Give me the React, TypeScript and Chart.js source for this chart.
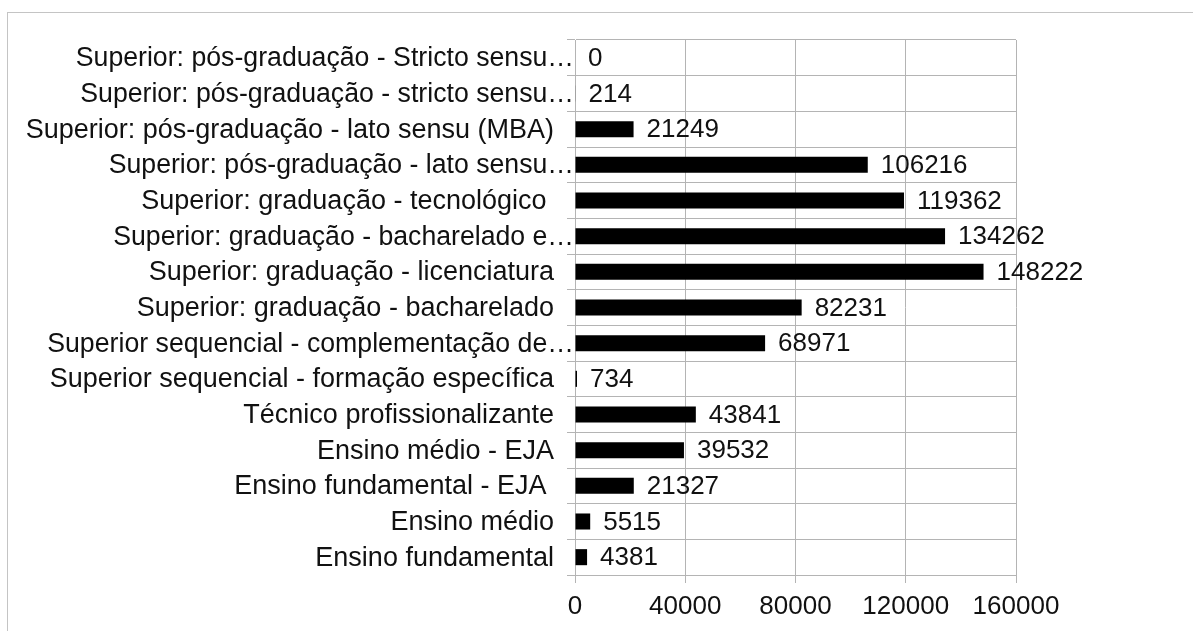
import React, { useEffect, useRef } from "react";
import { Chart, registerables } from "chart.js";

Chart.register(...registerables);

const categories: string[] = [
  "Superior: pós-graduação - Stricto sensu…",
  "Superior: pós-graduação - stricto sensu…",
  "Superior: pós-graduação - lato sensu (MBA)",
  "Superior: pós-graduação - lato sensu…",
  "Superior: graduação - tecnológico ",
  "Superior: graduação - bacharelado e…",
  "Superior: graduação - licenciatura",
  "Superior: graduação - bacharelado",
  "Superior sequencial - complementação de…",
  "Superior sequencial - formação específica",
  "Técnico profissionalizante",
  "Ensino médio - EJA",
  "Ensino fundamental - EJA ",
  "Ensino médio",
  "Ensino fundamental",
];

const values: number[] = [
  0, 214, 21249, 106216, 119362, 134262, 148222, 82231, 68971, 734, 43841,
  39532, 21327, 5515, 4381,
];

const xTicks: number[] = [0, 40000, 80000, 120000, 160000];

const FONT_FAMILY = '"Liberation Sans", Arial, Helvetica, sans-serif';
const GRID = "#b4b4b4";
const TEXT = "#111111";

export default function App() {
  const ref = useRef<HTMLCanvasElement | null>(null);

  useEffect(() => {
    if (!ref.current) return;

    const framePlugin = {
      id: "frame",
      beforeDraw(chart: any) {
        const ctx = chart.ctx;
        ctx.save();
        ctx.fillStyle = "#ffffff";
        ctx.fillRect(0, 0, chart.width, chart.height);
        ctx.strokeStyle = "#c4c4c4";
        ctx.lineWidth = 1;
        ctx.strokeRect(7.5, 12.5, 3000, 3000);
        ctx.restore();
      },
    };

    const labelPlugin = {
      id: "labels",
      afterDatasetsDraw(chart: any) {
        const ctx = chart.ctx;
        ctx.save();
        // value labels
        ctx.font = `26px ${FONT_FAMILY}`;
        ctx.fillStyle = TEXT;
        ctx.textAlign = "left";
        ctx.textBaseline = "middle";
        const meta = chart.getDatasetMeta(0);
        meta.data.forEach((el: any, i: number) => {
          ctx.fillText(String(values[i]), el.x + 13, el.y + 1);
        });
        // category labels
        const ys = chart.scales.y;
        ctx.font = `27px ${FONT_FAMILY}`;
        ctx.textAlign = "right";
        categories.forEach((c, i) => {
          const y = ys.getPixelForTick(i);
          if (c.endsWith("…")) {
            const w = ctx.measureText(c).width;
            ctx.fillText(c, ys.right - 1, y + 1, w - 6);
          } else {
            ctx.fillText(c, ys.right - 21, y + 1);
          }
        });
        ctx.restore();
      },
    };

    const chart = new Chart(ref.current, {
      type: "bar",
      data: {
        labels: categories,
        datasets: [
          {
            data: values,
            backgroundColor: "#000000",
            borderWidth: 0,
            barPercentage: 0.45,
            categoryPercentage: 1,
          },
        ],
      },
      options: {
        indexAxis: "y",
        animation: false,
        responsive: false,
        maintainAspectRatio: false,
        layout: { padding: { top: 40, right: 177, bottom: 0, left: 0 } },
        plugins: {
          legend: { display: false },
          tooltip: { enabled: false },
          title: { display: false },
        },
        scales: {
          x: {
            type: "linear",
            min: 0,
            max: 160000,
            afterBuildTicks: (s: any) => {
              s.ticks = xTicks.map((v) => ({ value: v }));
            },
            ticks: {
              font: { family: FONT_FAMILY, size: 26 },
              color: TEXT,
              padding: 8,
              maxRotation: 0,
              autoSkip: false,
              callback: (v: any) => String(v),
            },
            grid: { color: GRID, lineWidth: 1, tickLength: 8, drawTicks: true },
            border: { color: GRID },
            afterFit: (s: any) => {
              s.height = 56;
            },
          },
          y: {
            type: "category",
            ticks: { display: false },
            grid: { color: GRID, lineWidth: 1, tickLength: 8, offset: true, drawTicks: true },
            border: { color: GRID },
            afterFit: (s: any) => {
              s.width = 575;
            },
          },
        },
      },
      plugins: [framePlugin, labelPlugin],
    } as any);

    return () => chart.destroy();
  }, []);

  return (
    <div style={{ position: "absolute", left: 0, top: 0, width: 1193, height: 631 }}>
      <canvas ref={ref} width={1193} height={631} style={{ display: "block" }} />
    </div>
  );
}
